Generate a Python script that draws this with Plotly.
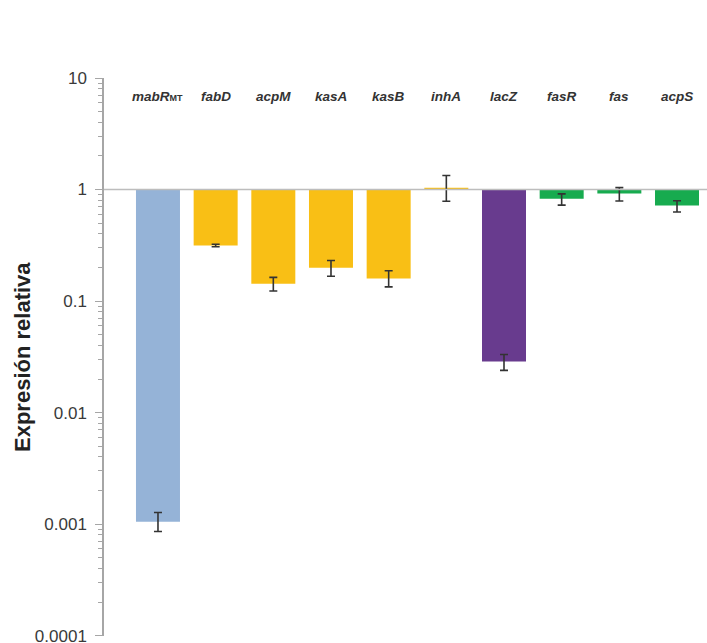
import plotly.graph_objects as go

genes = ["mabR", "fabD", "acpM", "kasA", "kasB", "inhA", "lacZ", "fasR", "fas", "acpS"]
gene_labels = ["<b><i>mabR</i><span style='font-size:9px'>MT</span></b>",
               "<b><i>fabD</i></b>", "<b><i>acpM</i></b>", "<b><i>kasA</i></b>",
               "<b><i>kasB</i></b>", "<b><i>inhA</i></b>", "<b><i>lacZ</i></b>",
               "<b><i>fasR</i></b>", "<b><i>fas</i></b>", "<b><i>acpS</i></b>"]
expression = [0.00105, 0.315, 0.143, 0.199, 0.159, 1.035, 0.0287, 0.825, 0.92, 0.718]
err_plus = [0.00022, 0.008, 0.02, 0.032, 0.028, 0.30, 0.0045, 0.09, 0.12, 0.075]
err_minus = [0.00019, 0.008, 0.02, 0.032, 0.025, 0.25, 0.0048, 0.10, 0.13, 0.09]
colors = ["#95B3D7", "#F9BF15", "#F9BF15", "#F9BF15", "#F9BF15", "#F9BF15",
          "#683B8E", "#17AB4F", "#17AB4F", "#17AB4F"]

tick_vals = [0.0001, 0.001, 0.01, 0.1, 1, 10]
tick_text = ["0.0001", "0.001", "0.01", "0.1", "1", "10"]

baseline = 1.0

fig = go.Figure()
# bars hang from the reference level 1
fig.add_trace(go.Bar(
    x=genes,
    y=[v - baseline for v in expression],
    base=baseline,
    marker=dict(color=colors, line=dict(width=0)),
    showlegend=False,
    hoverinfo="skip",
))
# error bars at the bar tips
fig.add_trace(go.Scatter(
    x=genes,
    y=expression,
    mode="markers",
    marker=dict(size=0.1, color="rgba(0,0,0,0)"),
    error_y=dict(type="data", symmetric=False, array=err_plus, arrayminus=err_minus,
                 color="#333333", thickness=1.6, width=4),
    showlegend=False,
))

for g, lab in zip(genes, gene_labels):
    fig.add_annotation(x=g, y=0.834, yref="y", xref="x", text=lab, showarrow=False,
                       font=dict(family="Liberation Sans, Arial", size=13.5, color="#333333"))

# y-axis title placed in the left margin
fig.add_annotation(x=22, xref="paper", xanchor="center", y=0.5, yref="paper",
                   text="<b>Expresión relativa</b>", textangle=-90, showarrow=False,
                   font=dict(family="Liberation Sans, Arial", size=22, color="#222222"))

fig.add_shape(type="line", xref="paper", yref="y", x0=0, x1=1, y0=baseline, y1=baseline,
              line=dict(color="#BDBDBD", width=1.5))

fig.update_layout(
    width=707, height=643,
    margin=dict(l=104, r=0, t=78, b=7),
    paper_bgcolor="white", plot_bgcolor="white",
    bargap=0.237,
    font=dict(family="Liberation Sans, Arial", color="#333333"),
    xaxis=dict(range=[-0.936, 9.52], showticklabels=False, showgrid=False,
               showline=False, zeroline=False, ticks="", automargin=False),
    yaxis=dict(type="log", range=[-4.003, 1], tickvals=tick_vals, ticktext=tick_text,
               automargin=False,
               showgrid=False, zeroline=False, showline=True, linecolor="#A6A6A6",
               linewidth=1.5, ticks="outside", ticklen=7, tickwidth=1.2,
               tickcolor="#A6A6A6", tickfont=dict(size=17, color="#3A3A3A"),
               ticklabelstandoff=5, ticklabeloverflow="allow",
               minor=dict(ticks="outside", ticklen=4, tickcolor="#A6A6A6",
                          tickwidth=1, dtick="D1", showgrid=False)),
)
# place the title annotation in pixels from the figure's left edge
fig.layout.annotations[-1].update(x=(22 - 104) / (707 - 104))

fig.write_html("out.html")
